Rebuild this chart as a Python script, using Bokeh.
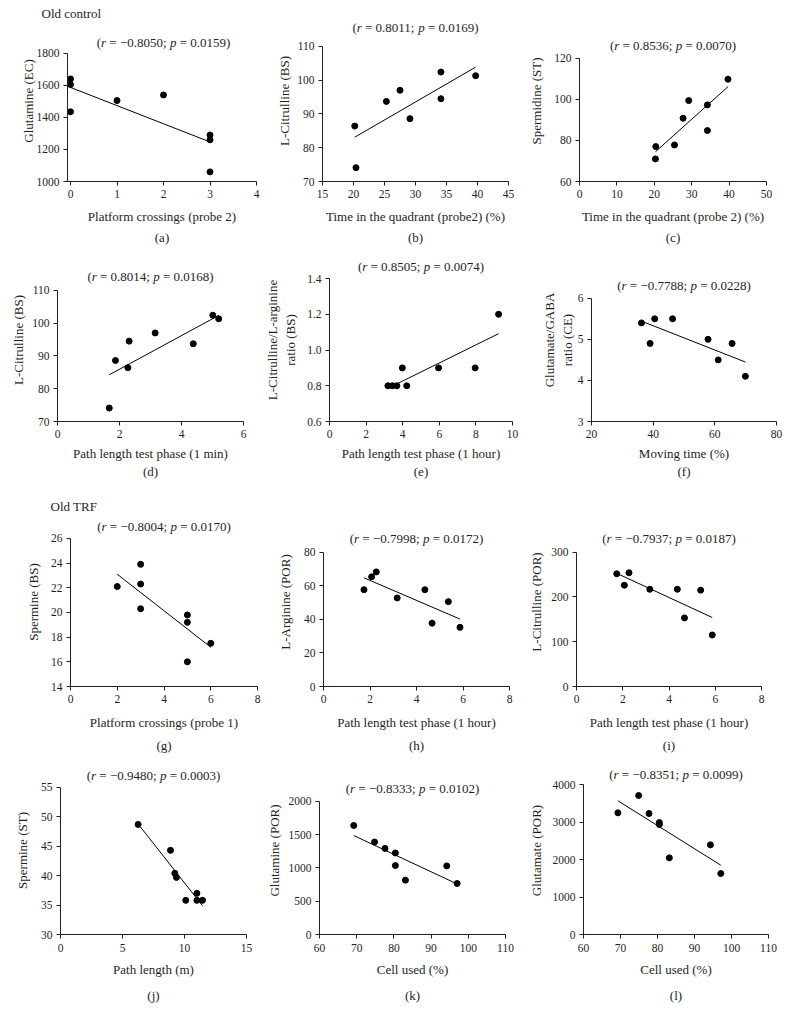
import numpy as np
from bokeh.plotting import figure
from bokeh.models import Range1d, Title, SingleIntervalTicker, PrintfTickFormatter
from bokeh.core.properties import value
from bokeh.layouts import column, row
from bokeh.embed import file_html
from bokeh.resources import INLINE

FONT = "Liberation Serif"
INK = "#231f20"

# ---------------- data ----------------
a_x = [0, 0, 0, 1, 2, 3, 3, 3]
a_y = [1640, 1605, 1435, 1505, 1540, 1290, 1260, 1060]
b_x = [20.2, 20.4, 25.3, 27.5, 29.1, 34.1, 34.1, 39.7]
b_y = [86.4, 74.1, 93.7, 97.0, 88.6, 102.4, 94.5, 101.3]
c_x = [20.3, 20.4, 25.4, 27.7, 29.2, 34.2, 34.2, 39.7]
c_y = [71.0, 77.0, 77.8, 90.8, 99.4, 97.3, 84.8, 109.8]
d_x = [1.67, 1.87, 2.27, 2.31, 3.15, 4.38, 5.01, 5.20]
d_y = [74.1, 88.6, 86.4, 94.5, 97.0, 93.7, 102.4, 101.3]
e_x = [3.19, 3.44, 3.68, 3.98, 4.22, 5.96, 7.96, 9.24]
e_y = [0.8, 0.8, 0.8, 0.9, 0.8, 0.9, 0.9, 1.2]
f_x = [36.2, 39.0, 40.5, 46.3, 57.8, 61.1, 65.6, 69.9]
f_y = [5.4, 4.9, 5.5, 5.5, 5.0, 4.5, 4.9, 4.1]
g_x = [2, 3, 3, 3, 5, 5, 5, 6]
g_y = [22.1, 23.9, 22.3, 20.3, 19.8, 19.2, 16.0, 17.5]
h_x = [1.74, 2.07, 2.27, 3.17, 4.36, 4.67, 5.37, 5.87]
h_y = [57.6, 65.3, 68.2, 52.7, 57.6, 37.7, 50.5, 35.2]
i_x = [1.74, 2.07, 2.27, 3.17, 4.36, 4.67, 5.37, 5.87]
i_y = [251.6, 226.0, 253.8, 217.0, 217.0, 153.0, 215.0, 115.0]
j_x = [6.26, 8.87, 9.22, 9.35, 10.1, 11.0, 11.0, 11.45]
j_y = [48.7, 44.3, 40.4, 39.7, 35.8, 37.0, 35.8, 35.8]
k_x = [69.2, 74.8, 77.6, 80.4, 80.4, 83.1, 94.2, 97.0]
k_y = [1637, 1388, 1293, 1224, 1035, 816, 1030, 766]
l_x = [69.3, 74.9, 77.7, 80.5, 80.5, 83.2, 94.3, 97.1]
l_y = [3244, 3707, 3227, 2987, 2933, 2044, 2391, 1627]

r_values = ["\u22120.8050", "0.8011", "0.8536", "0.8014", "0.8505", "\u22120.7788",
            "\u22120.8004", "\u22120.7998", "\u22120.7937", "\u22120.9480", "\u22120.8333", "\u22120.8351"]
p_values = ["0.0159", "0.0169", "0.0070", "0.0168", "0.0074", "0.0228",
            "0.0170", "0.0172", "0.0187", "0.0003", "0.0102", "0.0099"]
letters = ["(a)", "(b)", "(c)", "(d)", "(e)", "(f)", "(g)", "(h)", "(i)", "(j)", "(k)", "(l)"]
x_labels = ["Platform crossings (probe 2)", "Time in the quadrant (probe2) (%)",
            "Time in the quadrant (probe 2) (%)", "Path length test phase (1 min)",
            "Path length test phase (1 hour)", "Moving time (%)",
            "Platform crossings (probe 1)", "Path length test phase (1 hour)",
            "Path length test phase (1 hour)", "Path length (m)", "Cell used (%)", "Cell used (%)"]
y_labels = ["Glutamine (EC)", "L-Citrulline (BS)", "Spermidine (ST)", "L-Citrulline (BS)",
            "L-Citrulline/L-arginine\nratio (BS)", "Glutamate/GABA\nratio (CE)",
            "Spermine (BS)", "L-Arginine (POR)", "L-Citrulline (POR)",
            "Spermine (ST)", "Glutamine (POR)", "Glutamate (POR)"]
# axis (start, end, step)
x_axes = [(0, 4, 1), (15, 45, 5), (0, 50, 10), (0, 6, 2), (0, 10, 2), (20, 80, 20),
          (0, 8, 2), (0, 8, 2), (0, 8, 2), (0, 15, 5), (60, 110, 10), (60, 110, 10)]
y_axes = [(1000, 1800, 200), (70, 110, 10), (60, 120, 20), (70, 110, 10), (0.6, 1.4, 0.2), (3, 6, 1),
          (14, 26, 2), (0, 80, 20), (0, 300, 100), (30, 55, 5), (0, 2000, 500), (0, 4000, 1000)]
y_formats = ["%d", "%d", "%d", "%d", "%.1f", "%d", "%d", "%d", "%d", "%d", "%d", "%d"]
groups = {0: "Old control", 6: "Old TRF"}

series = [(a_x, a_y), (b_x, b_y), (c_x, c_y), (d_x, d_y), (e_x, e_y), (f_x, f_y),
          (g_x, g_y), (h_x, h_y), (i_x, i_y), (j_x, j_y), (k_x, k_y), (l_x, l_y)]

# ---------------- layout (page pixel coordinates) ----------------
cols = [(0, 262), (262, 520), (520, 788)]
rows_ = [(0, 245), (245, 492), (492, 760), (760, 1020)]
row_frame_top = [20, 258, 516, 766]      # shared plot-frame top in each row
# axis boxes: left, top, right, bottom
frames = [(70, 53, 256, 182), (322, 46, 508, 182), (579, 58, 766, 182),
          (57, 290, 243, 422), (327, 278, 512, 421), (591, 298, 776, 422),
          (70, 537, 257, 686), (323, 551, 509, 687), (576, 551, 761, 687),
          (60, 787, 246, 935), (319, 801, 505, 935), (583, 784, 768, 934)]
title_off = [11, 19, 13, 14, 12, 13, 12, 14, 14, 12, 13, 10]
letter_std = [2, 2, 2, -4, -4, -4, 6, 6, 6, 12, 12, 12]
ylab_standoff = [-2, 2, 7, 3, 6, 0, 7, 8, 4, 8, 4, 6]
xlab_standoff = [8, 8, 8, 5, 5, 5, 9, 9, 9, 7, 7, 7]
tick_standoff = [4, 4, 4, 4, 4, 4, 4, 4, 4, 5, 5, 5]
group_pos = {0: (-29, 0), 6: (-20, 8)}

# Times-compatible advance widths (per 1000 em) for the r/p captions
W_REG = {"(": 333, ")": 333, " ": 250, "=": 564, "\u2212": 564, ".": 250, ";": 278}
W_REG.update({str(d): 500 for d in range(10)})
W_ITA = {"r": 389, "p": 500}
TITLE_PX = 13


def text_width(s, table):
    return sum(table[ch] for ch in s) * TITLE_PX / 1000.0


def make_panel(idx):
    xs, ys = series[idx]
    ci, ri = idx % 3, idx // 3
    cx0, cx1 = cols[ci]
    cy0, cy1 = rows_[ri]
    fx0, fy0, fx1, fy1 = frames[idx]
    xs0, xs1, xstep = x_axes[idx]
    ys0, ys1, ystep = y_axes[idx]
    ppu_x = (fx1 - fx0) / (xs1 - xs0)
    ppu_y = (fy1 - fy0) / (ys1 - ys0)
    ftop = row_frame_top[ri]
    ext = fy0 - ftop                   # room above the axis for the caption
    lpad = 3 if idx == 0 else 0        # room so points on x = 0 stay whole
    x_start = xs0 - lpad / ppu_x
    y_end = ys1 + ext / ppu_y
    p = figure(width=cx1 - cx0, height=cy1 - cy0, output_backend="svg",
               toolbar_location=None, tools="",
               x_range=Range1d(x_start, xs1), y_range=Range1d(ys0, y_end),
               min_border_left=fx0 - lpad - cx0, min_border_right=cx1 - fx1,
               min_border_top=ftop - cy0, min_border_bottom=cy1 - fy1)
    p.outline_line_color = None
    p.xgrid.visible = False
    p.ygrid.visible = False
    p.background_fill_color = "white"
    p.border_fill_color = "white"

    for ax in (p.xaxis[0], p.yaxis[0]):
        ax.axis_line_color = INK
        ax.major_tick_line_color = INK
        ax.major_tick_out = 4
        ax.major_tick_in = 0
        ax.minor_tick_line_color = None
        ax.major_label_text_font = FONT
        ax.major_label_text_font_size = "11.5px"
        ax.major_label_text_color = INK
        ax.axis_label_text_font = FONT
        ax.axis_label_text_font_size = "13px"
        ax.axis_label_text_font_style = "normal"
        ax.axis_label_text_color = INK
        ax.major_label_standoff = 4
    p.xaxis[0].major_label_standoff = tick_standoff[idx]
    p.xaxis[0].ticker = SingleIntervalTicker(interval=xstep, num_minor_ticks=0)
    p.yaxis[0].ticker = SingleIntervalTicker(interval=ystep, num_minor_ticks=0)
    p.xaxis[0].formatter = PrintfTickFormatter(format="%d")
    p.yaxis[0].formatter = PrintfTickFormatter(format=y_formats[idx])
    eps_x, eps_y = (xs1 - xs0) * 1e-6, (ys1 - ys0) * 1e-6
    p.xaxis[0].bounds = (x_start - eps_x, xs1 + eps_x)
    p.yaxis[0].bounds = (ys0 - eps_y, ys1 + eps_y)
    p.xaxis[0].axis_label = x_labels[idx]
    p.yaxis[0].axis_label = y_labels[idx]
    p.xaxis[0].axis_label_standoff = xlab_standoff[idx]
    p.yaxis[0].axis_label_standoff = ylab_standoff[idx]

    # regression trend line from the data
    xa, ya = np.array(xs, float), np.array(ys, float)
    k, b = np.polyfit(xa, ya, 1)
    lx = [float(xa.min()), float(xa.max())]
    p.line(lx, [k * v + b for v in lx], line_color="black", line_width=1)
    p.scatter(xs, ys, size=6, color="black")

    # caption "(r = ...; p = ...)" with italic r and p, drawn in the frame's top band
    pieces = [("(", "normal"), ("r", "italic"), (" = " + r_values[idx] + "; ", "normal"),
              ("p", "italic"), (" = " + p_values[idx] + ")", "normal")]
    widths = [text_width(t, W_ITA if st == "italic" else W_REG) for t, st in pieces]
    xmid = (xs0 + xs1) / 2.0
    ycap = ys1 + title_off[idx] / ppu_y
    off = -sum(widths) / 2.0
    for (t, st), w in zip(pieces, widths):
        lead = len(t) - len(t.lstrip(" "))
        shown = t.strip(" ")
        p.text(x=[xmid], y=[ycap], text=[shown], x_offset=off + lead * W_REG[" "] * TITLE_PX / 1000.0,
               text_font=value(FONT), text_font_size=value(f"{TITLE_PX}px"),
               text_font_style=value(st), text_align=value("left"),
               text_baseline=value("middle"), text_color=INK)
        off += w

    # panel letter under the x axis
    p.add_layout(Title(text=letters[idx], align="center", text_font=FONT,
                       text_font_size="13px", text_font_style="normal",
                       text_color=INK, standoff=letter_std[idx]), "below")
    if idx in groups:
        gx, gs = group_pos[idx]
        p.add_layout(Title(text=groups[idx], align="left", offset=gx + lpad, text_font=FONT,
                           text_font_size="13px", text_font_style="normal",
                           text_color=INK, standoff=gs), "above")
    return p


figs = [make_panel(i) for i in range(12)]
layout = column(*[row(*figs[3 * r:3 * r + 3]) for r in range(4)])
open("out.html", "w").write(file_html(layout, INLINE))
